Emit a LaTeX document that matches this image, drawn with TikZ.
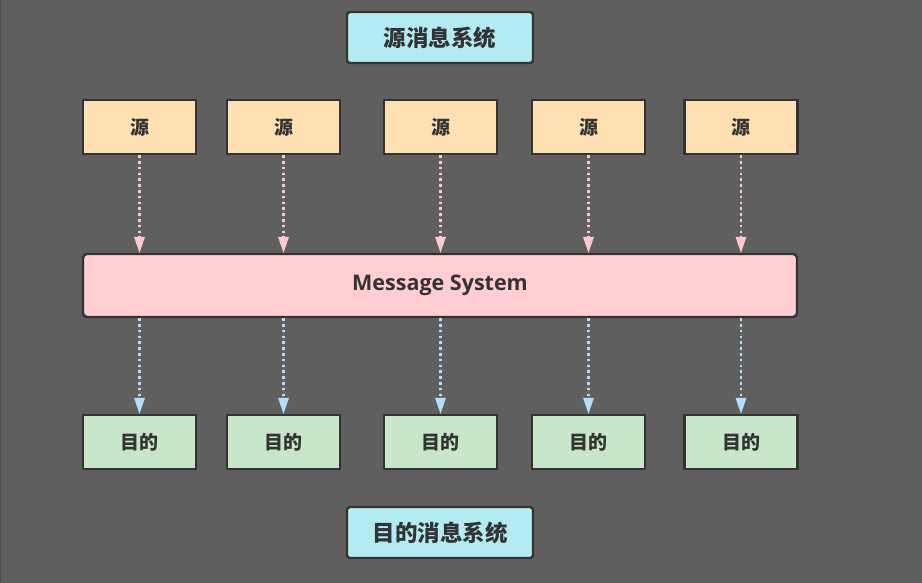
\documentclass[tikz,border=0pt]{standalone}
\usepackage{fontspec}
\setmainfont{Noto Sans CJK SC}
\newfontfamily\latinbold{Open Sans}
\usetikzlibrary{arrows.meta}
\definecolor{bg}{HTML}{5F5F5F}
\definecolor{edge}{HTML}{333333}
\definecolor{srcfill}{HTML}{FFE0B2}
\definecolor{dstfill}{HTML}{C8E6C9}
\definecolor{msfill}{HTML}{FFCDD2}
\definecolor{ttlfill}{HTML}{B2EBF2}
\definecolor{pinkarr}{HTML}{FFC8D0}
\definecolor{bluearr}{HTML}{B3DDF8}
\tikzset{
  box/.style={draw=edge, line width=2.4pt, text=edge, font=\bfseries\fontsize{19}{22}\selectfont, inner sep=0pt, minimum height=54pt},
  srcbox/.style={box, fill=srcfill, minimum width=113pt},
  dstbox/.style={box, fill=dstfill, minimum width=113pt},
  ttlbox/.style={box, fill=ttlfill, rounded corners=3pt, minimum width=186pt, minimum height=51pt, font=\bfseries\fontsize{22.5}{26}\selectfont},
  msbox/.style={box, fill=msfill, rounded corners=4pt, minimum width=714pt, minimum height=63pt, font=\latinbold\bfseries\fontsize{21.5}{24}\selectfont},
  conn/.style={line width=2.4pt, dash pattern=on 2.6pt off 3.2pt, -{Triangle[width=11pt,length=16pt,line width=0pt]}},
  pconn/.style={conn, draw=pinkarr, fill=pinkarr},
  bconn/.style={conn, draw=bluearr, fill=bluearr}
}
\begin{document}
\begin{tikzpicture}[x=1pt,y=-1pt]
\fill[bg] (0,0) rectangle (922,583);
\useasboundingbox (0,0) rectangle (922,583);
\draw[color=black!70, line width=1.5pt] (0.5,0) -- (0.5,583);
\node[ttlbox] (top) at (440,37.5) {源消息系统};
\node[msbox] (ms) at (440,285.5) {Message System};
\node[ttlbox] (bot) at (440,532.5) {目的消息系统};
\foreach \i/\x in {1/139.5,2/283.5,3/440.5,4/588.5,5/741} {
  \node[srcbox] (s\i) at (\x,127) {源};
  \node[dstbox] (d\i) at (\x,442) {目的};
  \draw[pconn] (s\i.south) -- (s\i.south |- ms.north);
  \draw[bconn] (s\i.south |- ms.south) -- (d\i.north);
}
\end{tikzpicture}
\end{document}
